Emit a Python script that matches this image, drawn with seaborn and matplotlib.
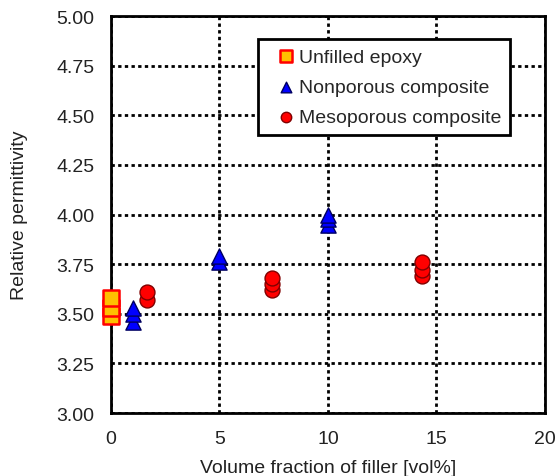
import matplotlib
matplotlib.use("Agg")
import matplotlib.pyplot as plt
import seaborn as sns
import pandas as pd

# Data
epoxy_x = [0.0, 0.0, 0.0]
epoxy_y = [3.49, 3.53, 3.58]
nonpor_x = [1.0, 1.0, 1.0, 5.0, 5.0, 10.0, 10.0, 10.0]
nonpor_y = [3.46, 3.50, 3.53, 3.76, 3.79, 3.95, 3.98, 4.00]
mesopor_x = [1.65, 1.65, 7.4, 7.4, 7.4, 14.35, 14.35, 14.35]
mesopor_y = [3.57, 3.61, 3.62, 3.65, 3.68, 3.69, 3.72, 3.76]

labels = ["Unfilled epoxy", "Nonporous composite", "Mesoporous composite"]
x_ticks = [0, 5, 10, 15, 20]
y_ticks = [3.00, 3.25, 3.50, 3.75, 4.00, 4.25, 4.50, 4.75, 5.00]

df = pd.concat([
    pd.DataFrame({"x": epoxy_x, "y": epoxy_y, "s": labels[0]}),
    pd.DataFrame({"x": nonpor_x, "y": nonpor_y, "s": labels[1]}),
    pd.DataFrame({"x": mesopor_x, "y": mesopor_y, "s": labels[2]}),
])

sns.set_style("white")
plt.rcParams["font.family"] = ["Liberation Sans", "DejaVu Sans"]

fig = plt.figure(figsize=(5.56, 4.77), dpi=100)
ax = fig.add_axes([0.1996, 0.132, 0.7804, 0.832])

styles = {
    labels[0]: dict(marker="s", facecolor="#FFC000", edgecolor="#FF0000", s=130, lw=1.8),
    labels[1]: dict(marker="^", facecolor="#0000FF", edgecolor="#000060", s=120, lw=1.0),
    labels[2]: dict(marker="o", facecolor="#FF0000", edgecolor="#800000", s=115, lw=1.0),
}
for lab in labels:
    st = styles[lab]
    sub = df[df["s"] == lab]
    sns.scatterplot(data=sub, x="x", y="y", ax=ax, marker=st["marker"], color=st["facecolor"],
                    edgecolor=st["edgecolor"], s=st["s"], linewidth=st["lw"], zorder=3,
                    label=lab, clip_on=False)

ax.set_xlim(0, 20)
ax.set_ylim(3.0, 5.0)
ax.set_xticks(x_ticks)
ax.set_xticklabels([str(t) for t in x_ticks])
ax.set_yticks(y_ticks)
ax.set_yticklabels([f"{t:.2f}" for t in y_ticks])
ax.grid(True, color="black", linestyle=(0, (1.2, 1.2)), linewidth=2.0, zorder=1)
ax.set_axisbelow(True)
for sp in ax.spines.values():
    sp.set_color("black")
    sp.set_linewidth(2.0)
ax.tick_params(axis="y", length=0, labelsize=14, colors="#222222", pad=12)
ax.tick_params(axis="x", length=0, labelsize=14, colors="#222222", pad=12)
ax.set_xlabel("Volume fraction of filler [vol%]", fontsize=14, color="#222222", labelpad=9)
ax.set_ylabel("Relative permittivity", fontsize=14, color="#222222", labelpad=20)

handles, labs = ax.get_legend_handles_labels()
leg = ax.legend(handles, labs, loc="upper left", bbox_to_anchor=(0.339, 0.942), fontsize=14,
                frameon=True, fancybox=False, edgecolor="black", framealpha=1,
                borderaxespad=0, handletextpad=-0.3, borderpad=0.45, labelspacing=0.65,
                markerscale=0.7, handlelength=1.95)
leg.get_frame().set_linewidth(2.0)

fig.savefig("out.png", dpi=100)
